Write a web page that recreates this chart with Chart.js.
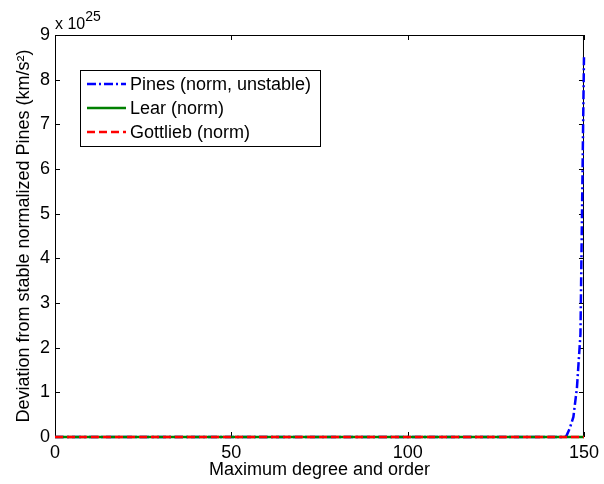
<!DOCTYPE html>
<html>
<head>
<meta charset="utf-8">
<script src="https://cdn.jsdelivr.net/npm/chart.js@4.4.0/dist/chart.umd.min.js"></script>
<style>
  html, body { margin: 0; padding: 0; background: #fff; }
  #wrap { width: 604px; height: 484px; }
</style>
</head>
<body>
<div id="wrap"><canvas id="c" width="604" height="484"></canvas></div>
<script>
// degree / deviation values (units of 1e25 km/s^2)
const degrees     = [0, 25, 50, 75, 100, 125, 140, 144, 145, 146, 147, 148, 149, 150];
const pinesDev    = [0, 0, 0, 0, 0, 0, 0, 0, 0.02, 0.2, 0.45, 1.1, 2.3, 8.5];
const learDev     = [0, 0, 0, 0, 0, 0, 0, 0, 0, 0, 0, 0, 0, 0];
const gottliebDev = [0, 0, 0, 0, 0, 0, 0, 0, 0, 0, 0, 0, 0, 0];
const xTicks = [0, 50, 100, 150];
const yTicks = [0, 1, 2, 3, 4, 5, 6, 7, 8, 9];

const FONT = 'Arial, "Liberation Sans", Helvetica, sans-serif';

const series = [
    { label: 'Pines (norm, unstable)', data: pinesDev, color: '#0000ff', dash: [9, 3, 2, 3] },
    { label: 'Lear (norm)', data: learDev, color: '#008000', dash: [] },
    { label: 'Gottlieb (norm)', data: gottliebDev, color: '#ff0000', dash: [8, 4] }
];

function toPoints(arr) {
    return degrees.map((d, i) => ({ x: d, y: arr[i] }));
}

// box + inward ticks under the lines, exponent and legend on top (matlab look)
const matlabAxes = {
    id: 'matlabAxes',
    beforeDatasetsDraw(chart) {
        const ctx = chart.ctx;
        const a = chart.chartArea;
        const xs = chart.scales.x;
        const ys = chart.scales.y;
        ctx.save();
        ctx.strokeStyle = '#000';
        ctx.lineWidth = 1;
        ctx.strokeRect(a.left + 0.5, a.top + 0.5, a.right - a.left - 1, a.bottom - a.top - 1);
        ctx.beginPath();
        xTicks.forEach(v => {
            const px = Math.round(xs.getPixelForValue(v)) + 0.5;
            ctx.moveTo(px, a.bottom); ctx.lineTo(px, a.bottom - 5);
            ctx.moveTo(px, a.top); ctx.lineTo(px, a.top + 5);
        });
        yTicks.forEach(v => {
            const py = Math.round(ys.getPixelForValue(v)) + 0.5;
            ctx.moveTo(a.left, py); ctx.lineTo(a.left + 5, py);
            ctx.moveTo(a.right, py); ctx.lineTo(a.right - 5, py);
        });
        ctx.stroke();
        ctx.restore();
    },
    afterDatasetsDraw(chart) {
        const ctx = chart.ctx;
        const a = chart.chartArea;
        ctx.save();
        // exponent
        ctx.fillStyle = '#000';
        ctx.strokeStyle = '#000';
        ctx.lineWidth = 1;
        ctx.textBaseline = 'alphabetic';
        ctx.textAlign = 'left';
        ctx.font = '16px ' + FONT;
        ctx.fillText('x 10', a.left, a.top - 6);
        const w = ctx.measureText('x 10').width;
        ctx.font = '14px ' + FONT;
        ctx.fillText('25', a.left + w, a.top - 14);

        // legend
        const lx = 80, ly = 70, lw = 240, lh = 76;
        ctx.fillStyle = '#fff';
        ctx.fillRect(lx, ly, lw, lh);
        ctx.strokeRect(lx + 0.5, ly + 0.5, lw, lh);
        ctx.font = '18px ' + FONT;
        ctx.textBaseline = 'middle';
        series.forEach((s, i) => {
            const yy = ly + 14 + i * 24;
            ctx.beginPath();
            ctx.strokeStyle = s.color;
            ctx.lineWidth = 2.5;
            ctx.setLineDash(s.dash);
            ctx.moveTo(87, yy); ctx.lineTo(126, yy);
            ctx.stroke();
            ctx.setLineDash([]);
            ctx.fillStyle = '#000';
            ctx.fillText(s.label, 130, yy + 1);
        });
        ctx.restore();
    }
};

new Chart(document.getElementById('c'), {
    type: 'line',
    data: {
        datasets: series.map((s, i) => ({
            label: s.label,
            data: toPoints(s.data),
            borderColor: s.color,
            backgroundColor: s.color,
            borderWidth: 2.5,
            borderDash: s.dash,
            pointRadius: 0,
            tension: 0,
            fill: false,
            clip: 4,
            order: 3 - i
        }))
    },
    options: {
        responsive: false,
        animation: false,
        devicePixelRatio: 1,
        layout: { padding: { left: 0, top: 35, right: 18, bottom: 0 } },
        plugins: {
            legend: { display: false },
            tooltip: { enabled: false }
        },
        scales: {
            x: {
                type: 'linear',
                min: 0,
                max: 150,
                afterBuildTicks: (s) => { s.ticks = xTicks.map(v => ({ value: v })); },
                afterFit: (s) => { s.height = 47; },
                grid: { display: false, drawTicks: false },
                border: { display: false },
                ticks: { color: '#000', padding: 5, font: { family: FONT, size: 18 } },
                title: {
                    display: true,
                    text: 'Maximum degree and order',
                    color: '#000',
                    padding: { top: 0, bottom: 3 },
                    font: { family: FONT, size: 18 }
                }
            },
            y: {
                min: 0,
                max: 9,
                afterBuildTicks: (s) => { s.ticks = yTicks.map(v => ({ value: v })); },
                afterFit: (s) => { s.width = 55; },
                grid: { display: false, drawTicks: false },
                border: { display: false },
                ticks: { color: '#000', padding: 5, font: { family: FONT, size: 18 } },
                title: {
                    display: true,
                    text: 'Deviation from stable normalized Pines (km/s²)',
                    color: '#000',
                    padding: { top: 13, bottom: 0 },
                    font: { family: FONT, size: 18 }
                }
            }
        }
    },
    plugins: [matlabAxes]
});
</script>
</body>
</html>
